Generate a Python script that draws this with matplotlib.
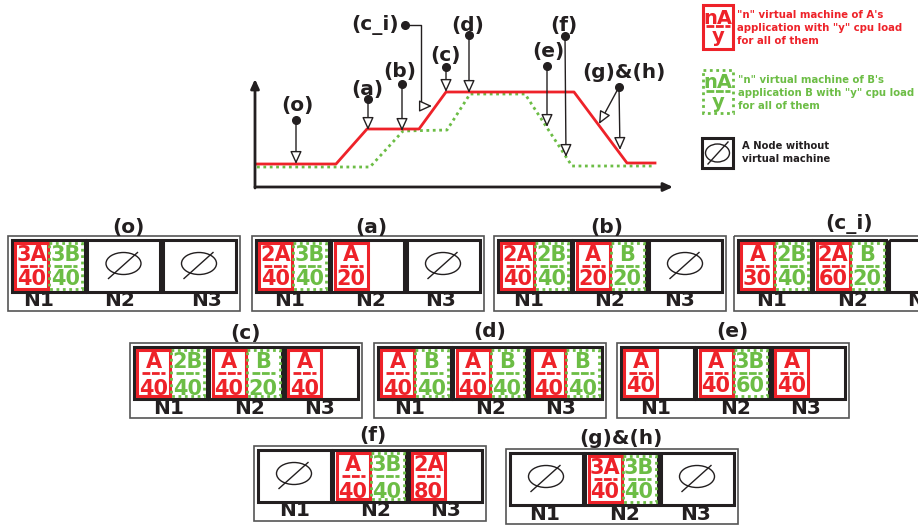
#!/usr/bin/env python
"""
Virtual machine placement on three nodes, with the load curves of A and B above.
The whole figure is laid out in pixel coordinates of the picture.
"""

import matplotlib
matplotlib.use("Agg")
import matplotlib.pyplot as plt
from matplotlib.patches import Ellipse, Rectangle

RED = "#ee2229"
GREEN = "#6cbd45"
DARK = "#231f20"

# load curves
red_x = [257, 336, 367, 419, 446, 574, 627, 655]
red_y = [164, 164, 129, 129, 92, 92, 163, 163]
green_x = [257, 370, 403, 447, 470, 525, 572, 655]
green_y = [167, 167, 131, 130, 94, 94, 166, 166]

# name, label position, dot position, arrow tips
events = [
    ("(o)", (297, 106), (296, 120), [(296, 164)]),
    ("(a)", (367, 90), (368, 99), [(368, 130)]),
    ("(b)", (400, 71), (402, 84), [(402, 131)]),
    ("(c)", (446, 55), (446, 67), [(446, 92)]),
    ("(d)", (468, 25), (469, 35), [(469, 93)]),
    ("(e)", (548, 51), (547, 66), [(547, 127)]),
    ("(f)", (564, 25), (565, 36), [(566, 157)]),
    ("(g)&(h)", (624, 72), (619, 87), [(599, 124), (620, 150)]),
]

# panel names and what every node holds: (application, count, load)
panel_names = ["(o)", "(a)", "(b)", "(c_i)", "(c)", "(d)", "(e)", "(f)", "(g)&(h)"]
panel_nodes = [
    [[("A", "3", 40), ("B", "3", 40)], [], []],
    [[("A", "2", 40), ("B", "3", 40)], [("A", "", 20)], []],
    [[("A", "2", 40), ("B", "2", 40)], [("A", "", 20), ("B", "", 20)], []],
    [[("A", "", 30), ("B", "2", 40)], [("A", "2", 60), ("B", "", 20)], None],
    [[("A", "", 40), ("B", "2", 40)], [("A", "", 40), ("B", "", 20)], [("A", "", 40)]],
    [[("A", "", 40), ("B", "", 40)], [("A", "", 40), ("B", "", 40)], [("A", "", 40), ("B", "", 40)]],
    [[("A", "", 40)], [("A", "", 40), ("B", "3", 60)], [("A", "", 40)]],
    [[], [("A", "", 40), ("B", "3", 40)], [("A", "2", 80)]],
    [[], [("A", "3", 40), ("B", "3", 40)], []],
]

# left edge and top edge of the outer boxes
panel_left = [8, 252, 494, 734, 130, 374, 617, 254, 506]
panel_top = [236, 236, 236, 236, 343, 343, 343, 446, 449]
title_x = [128, 371, 607, 849, 246, 490, 732, 373, 621]
title_y = [227, 227, 227, 224, 333, 332, 332, 435, 438]
# centres of N1, N2, N3 relative to the outer box
label_dx = [[31, 112, 199], [38, 119, 189], [35, 116, 186], [38, 119, 189],
            [39, 120, 190], [36, 117, 187], [39, 119, 189], [41, 122, 192], [39, 119, 190]]
# the lower number sits further down (and gets cut by its box) in the (c), (d), (f) panels
low_text_dy = [13, 13, 13, 13, 16, 16, 13, 16, 13]

fig = plt.figure(figsize=(9.18, 5.27), dpi=100)
ax = fig.add_axes([0, 0, 1, 1])
ax.set_xlim(0, 918)
ax.set_ylim(527, 0)
ax.axis("off")


def bold(x, y, s, size=14.5, color=DARK, ha="center"):
    return ax.text(x, y, s, fontsize=size, color=color, fontweight="bold", ha=ha, va="center",
                   family="DejaVu Sans", clip_on=True)


def arrow(start, tip, lw=1.0, fill="white", scale=14):
    ax.annotate("", xy=tip, xytext=start,
                arrowprops=dict(arrowstyle="-|>,head_length=0.55,head_width=0.25", lw=lw,
                                color=DARK, fc=fill, shrinkA=0, shrinkB=0,
                                mutation_scale=scale), zorder=5)


def empty_mark(cx, cy, w=35, h=22):
    ax.add_patch(Ellipse((cx, cy), w, h, fill=False, ec=DARK, lw=1))
    ax.plot([cx - 15, cx + 14], [cy + 15, cy - 11], color=DARK, lw=1)


def dash(x0, x1, y, color):
    ax.plot([x0, x1], [y, y], color=color, lw=2, ls=(0, (2.8, 0.6)))


def vm_box(x, y, w, h, app, count, load, low_dy):
    color = RED if app == "A" else GREEN
    if app == "A":
        box = Rectangle((x, y), w, h, fill=False, ec=color, lw=2.2)
    else:
        box = Rectangle((x, y), w, h, fill=False, ec=color, lw=2, ls=(0, (1, 1.3)))
    ax.add_patch(box)
    mid = y + h / 2 + 0.5
    bold(x + w / 2, mid - 11, count + app, 15, color)
    low = bold(x + w / 2, mid + low_dy, str(load), 15, color)
    low.set_clip_path(box)
    dash(x + 5, x + w - 5, mid, color)


# time axes
arrow((255, 188), (255, 79), lw=2, fill=DARK, scale=10)
arrow((255, 187), (673, 187), lw=2, fill=DARK, scale=10)

# load curves
ax.plot(green_x, green_y, color=GREEN, lw=2, ls=(0, (1, 1.3)))
ax.plot(red_x, red_y, color=RED, lw=2)

# event markers on the curves
for name, label_pos, dot, tips in events:
    bold(label_pos[0], label_pos[1], name)
    ax.plot(*dot, "o", color=DARK, ms=5.5, zorder=6)
    for tip in tips:
        arrow(dot, tip)

# (c_i) has a bent leader
bold(375, 25, "(c_i)")
ax.plot(405, 25, "o", color=DARK, ms=5.5, zorder=6)
ax.plot([405, 421, 421], [25, 25, 106], color=DARK, lw=1)
arrow((421, 106), (432, 106))

# legend
ax.add_patch(Rectangle((703, 5), 30, 44, fill=False, ec=RED, lw=2.2))
bold(718, 18, "nA", 14, RED)
dash(706, 730, 26, RED)
bold(718, 37, "y", 14, RED)
for i, line in enumerate(['"n" virtual machine of A\'s', 'application with "y" cpu load', "for all of them"]):
    bold(737, 15 + i * 13, line, 7.3, RED, ha="left")

ax.add_patch(Rectangle((703, 70), 30, 43, fill=False, ec=GREEN, lw=2, ls=(0, (1, 1.3))))
bold(718, 82, "nA", 14, GREEN)
dash(706, 730, 91, GREEN)
bold(718, 102, "y", 14, GREEN)
for i, line in enumerate(['"n" virtual machine of B\'s', 'application B with "y" cpu load', "for all of them"]):
    bold(738, 80 + i * 13, line, 7.3, GREEN, ha="left")

ax.add_patch(Rectangle((702, 138), 31, 30, fill=False, ec=DARK, lw=2.2))
ax.add_patch(Ellipse((717.5, 153), 24, 18, fill=False, ec=DARK, lw=1))
ax.plot([708, 728], [164, 142], color=DARK, lw=1)
bold(742, 146, "A Node without", 7.2, ha="left")
bold(742, 159, "virtual machine", 7.2, ha="left")

# the nine placement panels
for p, name in enumerate(panel_names):
    left = panel_left[p]
    top = panel_top[p]
    ax.add_patch(Rectangle((left, top), 231.5, 75, fill=False, ec="#555555", lw=1.2))
    bold(title_x[p], title_y[p], name)
    for n, vms in enumerate(panel_nodes[p]):
        nx = left + 3.5 + n * 75.5
        ny = top + 3.5
        ax.add_patch(Rectangle((nx, ny), 73, 52, fill=False, ec=DARK, lw=2.2))
        bold(left + label_dx[p][n], top + 65, "N%d" % (n + 1))
        if vms == []:
            empty_mark(nx + 36.5, ny + 24)
        for v, (app, count, load) in enumerate(vms or []):
            vm_box(nx + 3.5 + v * 34, ny + 3, 33, 46, app, count, load, low_text_dy[p])

fig.savefig("out.png", dpi=100, facecolor="white")
